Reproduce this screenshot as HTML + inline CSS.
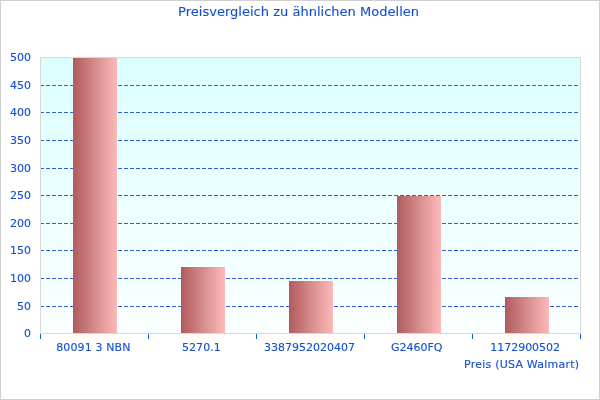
<!DOCTYPE html>
<html><head><meta charset="utf-8"><style>
html,body{margin:0;padding:0;background:#fff;}
body{width:600px;height:400px;overflow:hidden;}
svg{display:block;will-change:transform;}
text{-webkit-font-smoothing:antialiased;font-family:"DejaVu Sans","Liberation Sans",sans-serif;font-size:11px;fill:#1450d2;stroke:#1450d2;stroke-width:0.12px;}
</style></head><body>
<svg width="600" height="400" viewBox="0 0 600 400">
<defs>
<linearGradient id="bg" x1="0" y1="0" x2="0" y2="1">
<stop offset="0" stop-color="#dbffff"/><stop offset="1" stop-color="#fcffff"/>
</linearGradient>
<linearGradient id="bar" x1="0" y1="0" x2="1" y2="0">
<stop offset="0" stop-color="#b05a5c"/><stop offset="0.5" stop-color="#d78c8c"/><stop offset="1" stop-color="#fcb9b9"/>
</linearGradient>
</defs>
<rect x="0.5" y="0.5" width="599" height="399" fill="#fff" stroke="#d0d0d0" shape-rendering="crispEdges"/>
<rect x="40" y="57" width="540" height="276" fill="url(#bg)" shape-rendering="crispEdges"/>

<line x1="40" y1="306.5" x2="580" y2="306.5" stroke="#3060cc" stroke-width="1" stroke-dasharray="4 2" shape-rendering="crispEdges"/>
<line x1="40" y1="278.5" x2="580" y2="278.5" stroke="#3060cc" stroke-width="1" stroke-dasharray="4 2" shape-rendering="crispEdges"/>
<line x1="40" y1="250.5" x2="580" y2="250.5" stroke="#3060cc" stroke-width="1" stroke-dasharray="4 2" shape-rendering="crispEdges"/>
<line x1="40" y1="223.5" x2="580" y2="223.5" stroke="#3060cc" stroke-width="1" stroke-dasharray="4 2" shape-rendering="crispEdges"/>
<line x1="40" y1="195.5" x2="580" y2="195.5" stroke="#3060cc" stroke-width="1" stroke-dasharray="4 2" shape-rendering="crispEdges"/>
<line x1="40" y1="168.5" x2="580" y2="168.5" stroke="#3060cc" stroke-width="1" stroke-dasharray="4 2" shape-rendering="crispEdges"/>
<line x1="40" y1="140.5" x2="580" y2="140.5" stroke="#3060cc" stroke-width="1" stroke-dasharray="4 2" shape-rendering="crispEdges"/>
<line x1="40" y1="112.5" x2="580" y2="112.5" stroke="#3060cc" stroke-width="1" stroke-dasharray="4 2" shape-rendering="crispEdges"/>
<line x1="40" y1="85.5" x2="580" y2="85.5" stroke="#3060cc" stroke-width="1" stroke-dasharray="4 2" shape-rendering="crispEdges"/>
<rect x="73" y="58" width="44" height="275" fill="url(#bar)" shape-rendering="crispEdges"/>
<rect x="181" y="267" width="44" height="66" fill="url(#bar)" shape-rendering="crispEdges"/>
<rect x="289" y="281" width="44" height="52" fill="url(#bar)" shape-rendering="crispEdges"/>
<rect x="397" y="196" width="44" height="137" fill="url(#bar)" shape-rendering="crispEdges"/>
<rect x="505" y="297" width="44" height="36" fill="url(#bar)" shape-rendering="crispEdges"/>
<rect x="40.5" y="57.5" width="540" height="276" fill="none" stroke="#d8d8d8" shape-rendering="crispEdges"/>
<line x1="40.5" y1="334" x2="40.5" y2="339" stroke="#0a5fd8" shape-rendering="crispEdges"/>
<line x1="148.5" y1="334" x2="148.5" y2="339" stroke="#0a5fd8" shape-rendering="crispEdges"/>
<line x1="256.5" y1="334" x2="256.5" y2="339" stroke="#0a5fd8" shape-rendering="crispEdges"/>
<line x1="364.5" y1="334" x2="364.5" y2="339" stroke="#0a5fd8" shape-rendering="crispEdges"/>
<line x1="472.5" y1="334" x2="472.5" y2="339" stroke="#0a5fd8" shape-rendering="crispEdges"/>
<line x1="580.5" y1="334" x2="580.5" y2="339" stroke="#0a5fd8" shape-rendering="crispEdges"/>
<text x="31" y="337" text-anchor="end">0</text>
<text x="31" y="310" text-anchor="end">50</text>
<text x="31" y="282" text-anchor="end">100</text>
<text x="31" y="254" text-anchor="end">150</text>
<text x="31" y="227" text-anchor="end">200</text>
<text x="31" y="199" text-anchor="end">250</text>
<text x="31" y="172" text-anchor="end">300</text>
<text x="31" y="144" text-anchor="end">350</text>
<text x="31" y="116" text-anchor="end">400</text>
<text x="31" y="89" text-anchor="end">450</text>
<text x="31" y="61" text-anchor="end">500</text>
<text x="93.30" y="351" text-anchor="middle" textLength="74.2" lengthAdjust="spacing">80091 3 NBN</text>
<text x="201.35" y="351" text-anchor="middle" textLength="38.8" lengthAdjust="spacing">5270.1</text>
<text x="309.45" y="351" text-anchor="middle" textLength="91.0" lengthAdjust="spacing">3387952020407</text>
<text x="416.70" y="351" text-anchor="middle" textLength="51.5" lengthAdjust="spacing">G2460FQ</text>
<text x="525.17" y="351" text-anchor="middle" textLength="69.7" lengthAdjust="spacing">1172900502</text>
<text x="579" y="368" text-anchor="end" textLength="114.9" lengthAdjust="spacing">Preis (USA Walmart)</text>
<text x="298.55" y="16" text-anchor="middle" textLength="241" lengthAdjust="spacing" style="font-size:13px">Preisvergleich zu ähnlichen Modellen</text>
</svg>
</body></html>
